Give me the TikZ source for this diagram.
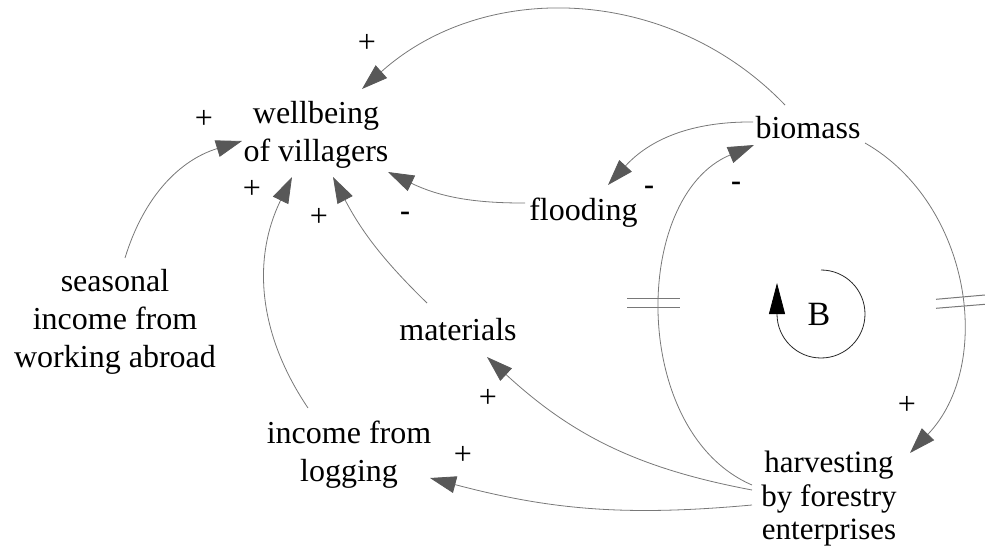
\documentclass[tikz,border=0pt]{standalone}
\usepackage{fontspec}
\setmainfont{Liberation Serif}
\usetikzlibrary{arrows.meta}
\definecolor{linkgray}{RGB}{120,120,120}
\definecolor{headgray}{RGB}{88,88,88}
\begin{document}
\begin{tikzpicture}[x=1pt,y=-1pt,
  var/.style={inner sep=0pt, align=center, font=\fontsize{32}{38}\selectfont},
  pol/.style={inner sep=0pt, font=\fontsize{32}{38}\selectfont},
  neg/.style={inner sep=0pt, font=\fontsize{30}{36}\selectfont\bfseries},
  link/.style={draw=linkgray, line width=0.8pt,
    -{Triangle[length=26pt,width=17pt,color=headgray]}},
  delay/.style={draw=linkgray, line width=1pt},
  looparrow/.style={draw=black!85, line width=0.8pt,
    -{Triangle[length=31pt,width=16pt,color=black]}}
]
\useasboundingbox (0,0) rectangle (985,553);

% variables
\node[var] (wb)  at (316,134.5) {wellbeing\\of villagers};
\node[var] (bio) at (808,128) {biomass};
\node[var] (fl)  at (583.5,212.5) {flooding};
\node[var] (sea) at (115,322) {seasonal\\income from\\working abroad};
\node[var] (mat) at (458,330) {materials};
\node[var] (inc) at (349,455) {income from\\logging};
\node[var, font=\fontsize{31}{33.5}\selectfont] (har) at (829,499) {harvesting\\by forestry\\enterprises};

% causal links
\draw[link] ([shift={(-23,-23)}]bio.center) to[bend right=44] ([shift={(46,-45.5)}]wb.center);
\draw[link] ([shift={(-55,-6)}]bio.center) to[bend right=24] ([shift={(24.5,-27.5)}]fl.center);
\draw[link] ([shift={(-58.5,-9.5)}]fl.center) to[bend left=13] ([shift={(72,37.5)}]wb.center);
\draw[link] ([shift={(-77,-14)}]har.center) to[bend left=67] ([shift={(-54,17)}]bio.center);
\draw[link] ([shift={(57,15)}]bio.center) to[bend left=52] ([shift={(81,-46)}]har.center);
\draw[link] ([shift={(-77,-9)}]har.center) to[bend left=16] ([shift={(29,27)}]mat.center);
\draw[link] ([shift={(-77,6)}]har.center) to[bend left=10] ([shift={(81,23)}]inc.center);
\draw[link] ([shift={(-31,-27)}]mat.center) to[bend left=9] ([shift={(17,42.5)}]wb.center);
\draw[link] ([shift={(-41,-47)}]inc.center) to[bend left=30] ([shift={(-24,42.5)}]wb.center);
\draw[link] ([shift={(10,-64)}]sea.center) to[bend left=28] ([shift={(-74,6.5)}]wb.center);

% delay marks
\draw[delay] (627,298.7) -- (680,298.7);
\draw[delay] (627,307.7) -- (680,307.7);
\draw[delay] (936,299.3) -- (985,295);
\draw[delay] (936,308.3) -- (985,304.3);

% polarities
\node[pol] (p1) at (367,43) {+};
\node[pol] (p2) at (204,119) {+};
\node[pol] (p3) at (252,189) {+};
\node[pol] (p4) at (319,217) {+};
\node[neg] (p5) at (405,216) {-};
\node[neg] (p6) at (649,190) {-};
\node[neg] (p7) at (736,186) {-};
\node[pol] (p8) at (907,405) {+};
\node[pol] (p9) at (488,398) {+};
\node[pol] (p10) at (463,455) {+};

% balancing loop marker
\node[inner sep=0pt, font=\fontsize{34}{40}\selectfont] (loopB) at (819,314) {B};
\draw[looparrow] (821,270) arc[start angle=270, end angle=540, radius=44] -- ++(0,-31);
\end{tikzpicture}
\end{document}
